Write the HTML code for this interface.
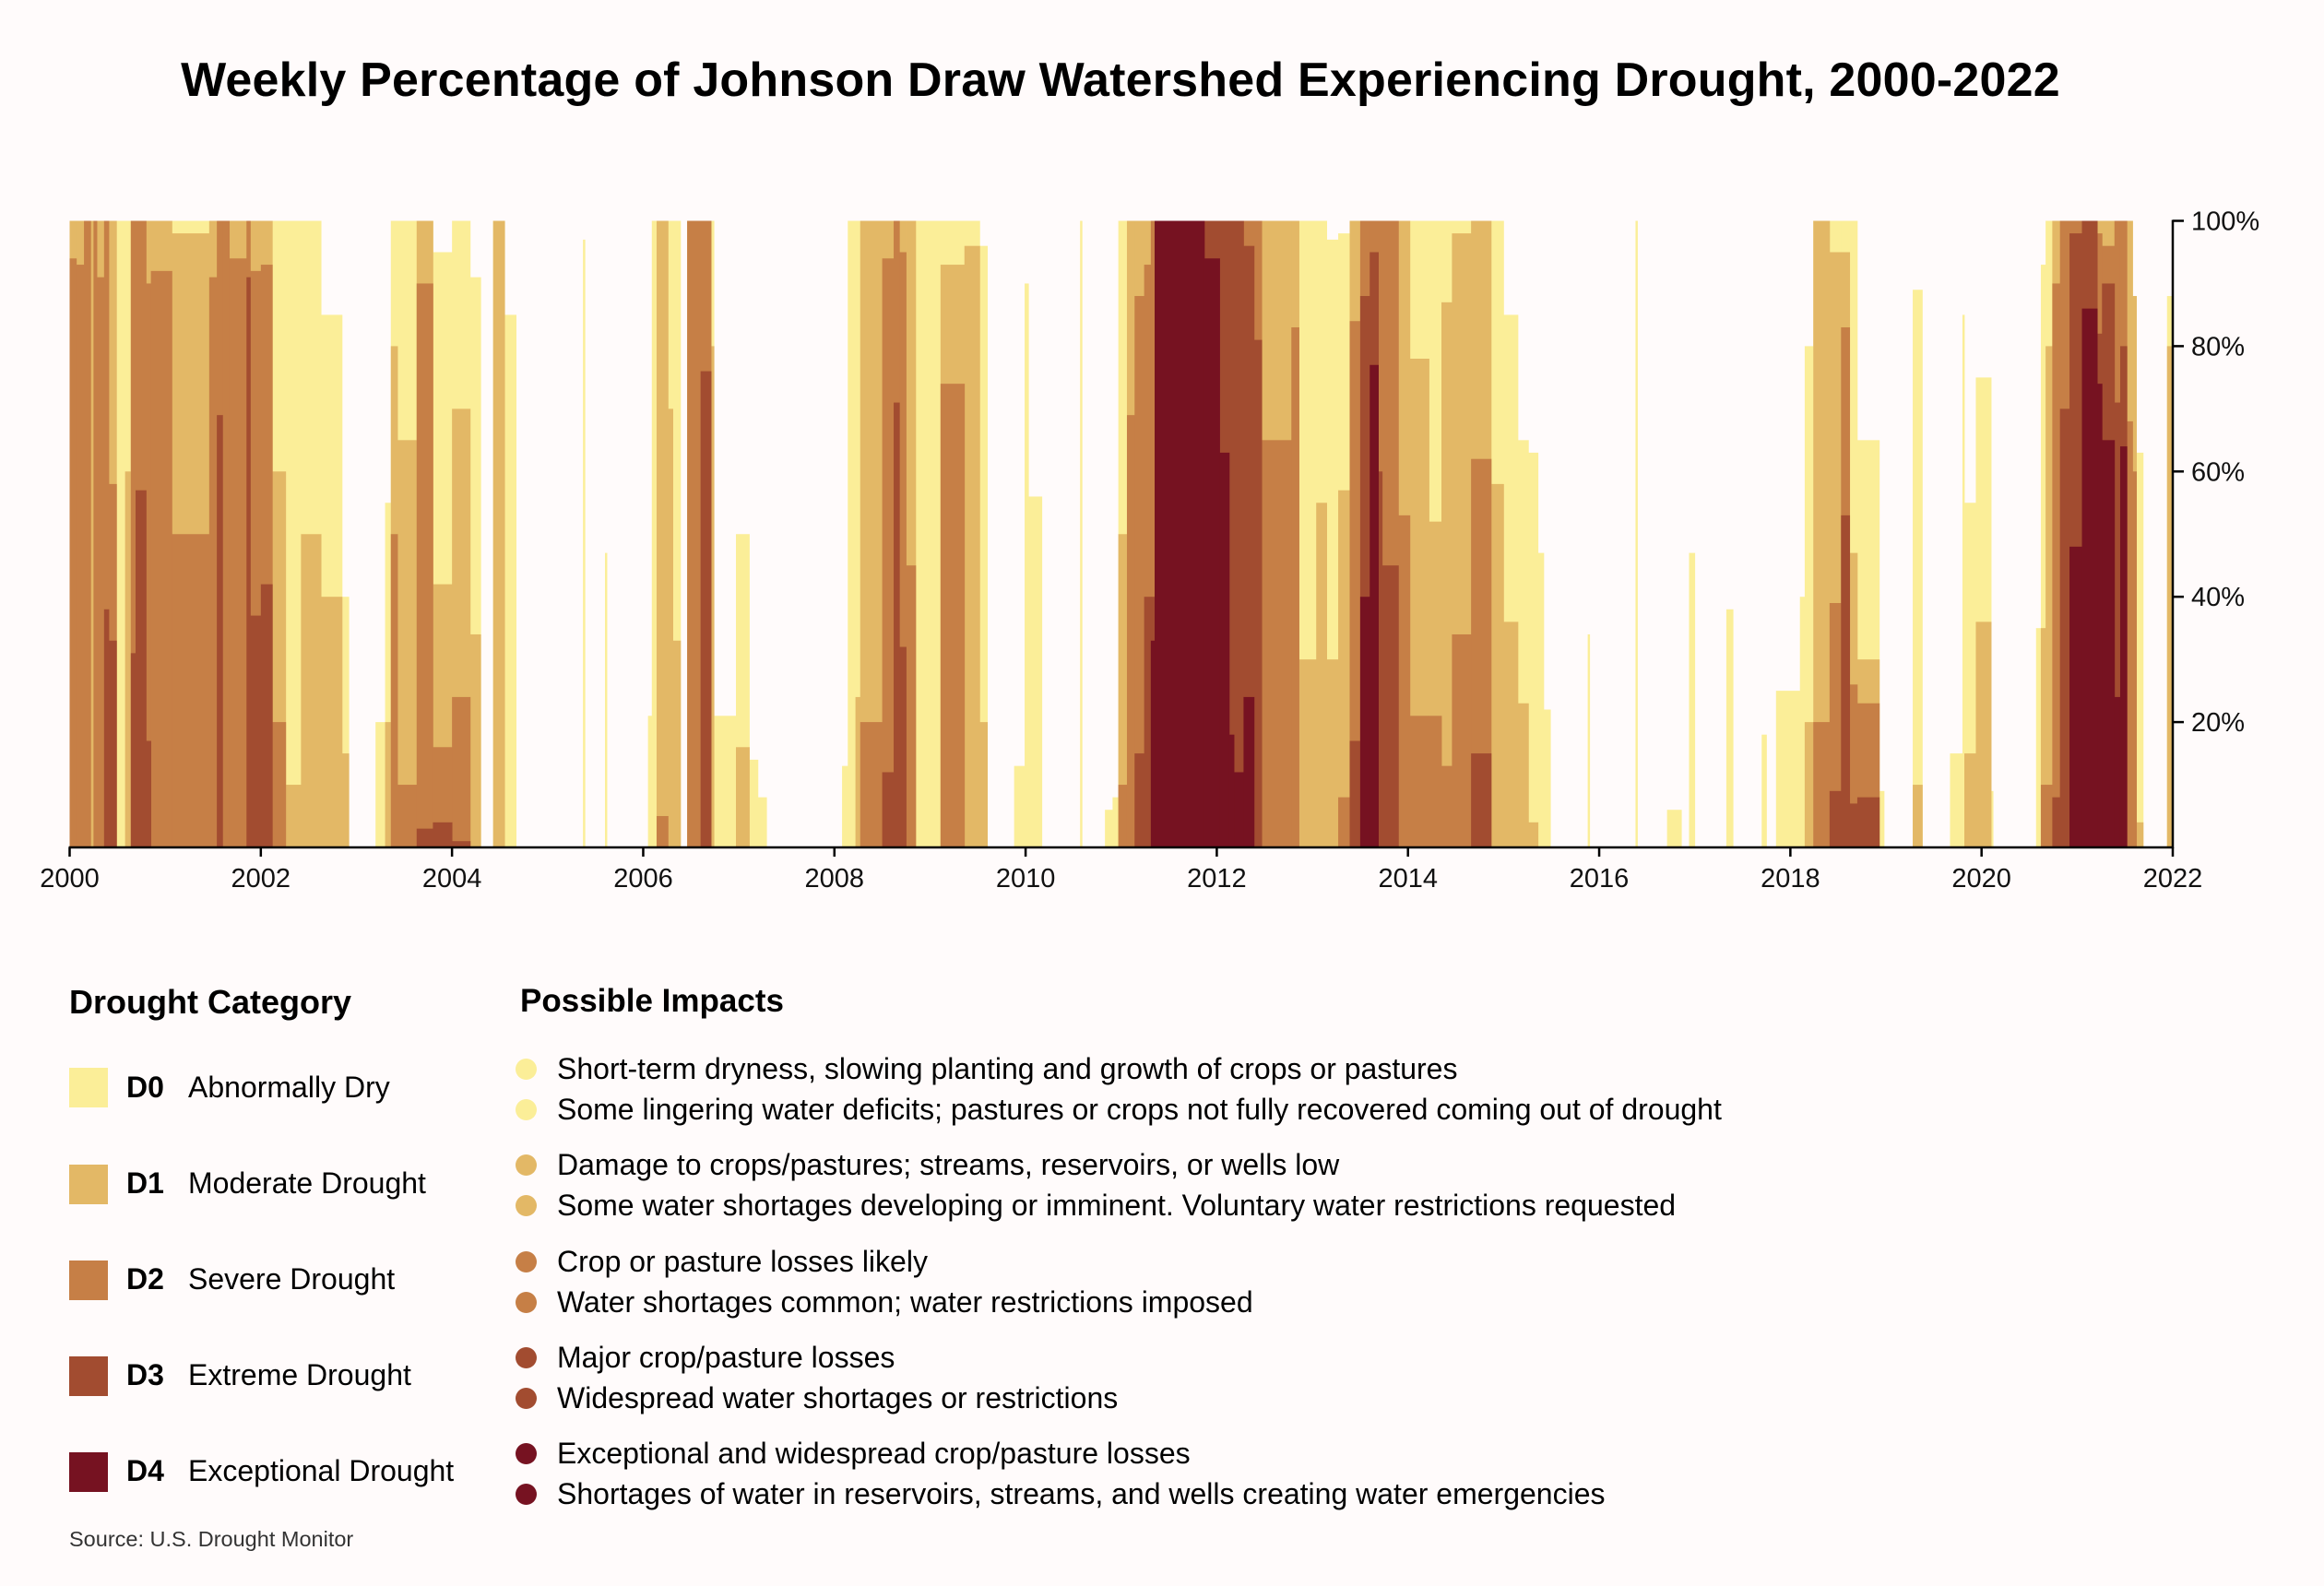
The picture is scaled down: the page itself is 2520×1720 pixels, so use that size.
<!DOCTYPE html>
<html>
<head>
<meta charset="utf-8">
<style>
  html,body{margin:0;padding:0;background:#fffbfb;}
  body{width:2520px;height:1720px;position:relative;overflow:hidden;font-family:"Liberation Sans",sans-serif;color:#000;}
  .title{position:absolute;left:0;width:2430px;top:57px;text-align:center;font-size:52px;font-weight:bold;letter-spacing:0.2px;}
  .hdr{position:absolute;font-size:36px;font-weight:bold;}
  .sq{position:absolute;left:75px;width:42px;height:43px;}
  .code{position:absolute;left:137px;font-size:32px;font-weight:bold;}
  .lab{position:absolute;left:204px;font-size:32px;}
  .dot{position:absolute;left:559px;width:23px;height:23px;border-radius:50%;}
  .imp{position:absolute;left:604px;font-size:32px;white-space:nowrap;}
  .src{position:absolute;left:75px;top:1656px;font-size:23.5px;color:#333;}
  svg text{font-family:"Liberation Sans",sans-serif;}
</style>
</head>
<body>
<div class="title">Weekly Percentage of Johnson Draw Watershed Experiencing Drought, 2000-2022</div>

<svg id="chart" width="2520" height="1000" style="position:absolute;left:0;top:0;"></svg>

<div class="hdr" style="left:75px;top:1066px;">Drought Category</div>
<div class="hdr" style="left:564px;top:1066px;font-size:35px;">Possible Impacts</div>

<div>
  <div class="sq" style="top:1158px;background:#fbee98;"></div>
  <div class="code" style="top:1161px;">D0</div><div class="lab" style="top:1161px;">Abnormally Dry</div>
</div>
<div>
  <div class="sq" style="top:1263px;background:#e3b866;"></div>
  <div class="code" style="top:1265px;">D1</div><div class="lab" style="top:1265px;">Moderate Drought</div>
</div>
<div>
  <div class="sq" style="top:1367px;background:#c67f46;"></div>
  <div class="code" style="top:1369px;">D2</div><div class="lab" style="top:1369px;">Severe Drought</div>
</div>
<div>
  <div class="sq" style="top:1471px;background:#a24c30;"></div>
  <div class="code" style="top:1473px;">D3</div><div class="lab" style="top:1473px;">Extreme Drought</div>
</div>
<div>
  <div class="sq" style="top:1575px;background:#761221;"></div>
  <div class="code" style="top:1577px;">D4</div><div class="lab" style="top:1577px;">Exceptional Drought</div>
</div>

<div>
  <div class="dot" style="top:1148px;background:#fbee98;"></div><div class="imp" style="top:1141px;">Short-term dryness, slowing planting and growth of crops or pastures</div>
  <div class="dot" style="top:1192px;background:#fbee98;"></div><div class="imp" style="top:1185px;">Some lingering water deficits; pastures or crops not fully recovered coming out of drought</div>
</div>
<div>
  <div class="dot" style="top:1252px;background:#e3b866;"></div><div class="imp" style="top:1245px;">Damage to crops/pastures; streams, reservoirs, or wells low</div>
  <div class="dot" style="top:1296px;background:#e3b866;"></div><div class="imp" style="top:1289px;">Some water shortages developing or imminent. Voluntary water restrictions requested</div>
</div>
<div>
  <div class="dot" style="top:1357px;background:#c67f46;"></div><div class="imp" style="top:1350px;">Crop or pasture losses likely</div>
  <div class="dot" style="top:1401px;background:#c67f46;"></div><div class="imp" style="top:1394px;">Water shortages common; water restrictions imposed</div>
</div>
<div>
  <div class="dot" style="top:1461px;background:#a24c30;"></div><div class="imp" style="top:1454px;">Major crop/pasture losses</div>
  <div class="dot" style="top:1505px;background:#a24c30;"></div><div class="imp" style="top:1498px;">Widespread water shortages or restrictions</div>
</div>
<div>
  <div class="dot" style="top:1565px;background:#761221;"></div><div class="imp" style="top:1558px;">Exceptional and widespread crop/pasture losses</div>
  <div class="dot" style="top:1609px;background:#761221;"></div><div class="imp" style="top:1602px;">Shortages of water in reservoirs, streams, and wells creating water emergencies</div>
</div>

<div class="src">Source: U.S. Drought Monitor</div>

<script>
// Segment start (decimal year); each segment ends at the next start (last ends 2022)
const segStart = [
 2000.00,2000.07,2000.15,2000.22,2000.25,2000.285,2000.36,2000.41,2000.49,2000.58,
 2000.64,2000.69,2000.80,2000.85,2001.07,2001.46,2001.54,2001.60,2001.67,2001.85,
 2001.89,2002.00,2002.12,2002.26,2002.42,2002.63,2002.85,2002.92,2003.20,2003.30,
 2003.36,2003.43,2003.63,2003.80,2004.00,2004.19,2004.30,2004.43,2004.55,2004.67,
 2005.37,2005.39,2005.60,2005.62,2006.05,2006.09,2006.14,2006.26,2006.31,2006.39,
 2006.46,2006.60,2006.71,2006.74,2006.97,2007.11,2007.20,2007.29,2008.08,2008.14,
 2008.22,2008.27,2008.50,2008.62,2008.68,2008.75,2008.85,2009.11,2009.36,2009.52,
 2009.60,2009.88,2009.99,2010.03,2010.17,2010.57,2010.59,2010.83,2010.91,2010.97,
 2011.06,2011.14,2011.24,2011.31,2011.35,2011.87,2012.03,2012.13,2012.18,2012.28,
 2012.39,2012.47,2012.78,2012.86,2013.04,2013.15,2013.27,2013.39,2013.50,2013.60,
 2013.69,2013.73,2013.90,2014.02,2014.22,2014.35,2014.46,2014.66,2014.87,2015.00,
 2015.15,2015.26,2015.36,2015.42,2015.49,2015.88,2015.90,2016.38,2016.40,2016.71,
 2016.86,2016.94,2017.00,2017.33,2017.40,2017.70,2017.75,2017.85,2018.10,2018.15,
 2018.24,2018.41,2018.53,2018.62,2018.70,2018.93,2018.98,2019.28,2019.38,2019.67,
 2019.80,2019.82,2019.94,2020.10,2020.12,2020.57,2020.62,2020.67,2020.74,2020.82,
 2020.92,2021.05,2021.21,2021.26,2021.39,2021.45,2021.52,2021.58,2021.62,2021.69,2021.94
];
// Percent of area in D0 or worse
const pctD0 = [
 100,100,100,100,100,100,100,100,100,100,
 100,100,100,100,100,100,100,100,100,100,
 100,100,100,100,100,85,40,0,20,55,
 100,100,100,95,100,91,0,100,85,0,
 97,0,47,0,21,100,100,100,100,0,
 100,100,100,21,50,14,8,0,13,100,
 100,100,100,100,100,100,100,100,100,96,
 0,13,90,56,0,100,0,6,8,100,
 100,100,100,100,100,100,100,100,100,100,
 100,100,100,100,100,97,98,100,100,100,
 100,100,100,100,100,100,100,100,100,85,
 65,63,47,22,0,34,0,100,0,6,
 0,47,0,38,0,18,0,25,40,80,
 100,100,100,100,65,9,0,89,0,15,
 85,55,75,9,0,35,93,100,100,100,
 100,100,100,100,100,100,100,88,63,0,88
];
// Percent in D1 or worse
const pctD1 = [
 100,100,100,100,100,100,100,100,0,60,
 100,100,100,100,98,100,100,100,100,100,
 100,100,60,10,50,40,15,0,0,20,
 80,65,100,42,70,34,0,100,0,0,
 0,0,0,0,0,0,100,70,33,0,
 100,100,80,0,16,0,0,0,0,0,
 24,100,100,100,100,100,0,93,96,20,
 0,0,0,0,0,0,0,0,0,50,
 100,100,100,100,100,100,100,100,100,100,
 100,100,100,30,55,30,57,100,100,100,
 100,100,100,78,52,87,98,100,58,36,
 23,4,0,0,0,0,0,0,0,0,
 0,0,0,0,0,0,0,0,0,20,
 100,95,95,47,30,0,0,10,0,0,
 0,15,36,0,0,0,35,80,100,100,
 100,100,100,100,100,100,100,88,4,0,80
];
// Percent in D2 or worse
const pctD2 = [
 94,93,100,0,100,91,100,58,0,0,
 100,100,90,92,50,91,100,100,94,100,
 92,93,20,0,0,0,0,0,0,0,
 50,10,90,16,24,0,0,0,0,0,
 0,0,0,0,0,0,5,0,0,0,
 100,100,0,0,0,0,0,0,0,0,
 0,20,94,100,95,45,0,74,0,0,
 0,0,0,0,0,0,0,0,0,10,
 69,88,93,100,100,100,100,100,100,100,
 100,65,83,0,0,0,8,84,100,100,
 100,100,53,21,21,13,34,62,0,0,
 0,0,0,0,0,0,0,0,0,0,
 0,0,0,0,0,0,0,0,0,0,
 20,39,83,26,23,0,0,0,0,0,
 0,0,0,0,0,0,10,10,90,100,
 100,100,98,96,100,100,68,60,0,0,0
];
// Percent in D3 or worse
const pctD3 = [
 0,0,0,0,0,0,38,33,0,0,
 31,57,17,0,0,0,69,0,0,91,
 37,42,0,0,0,0,0,0,0,0,
 0,0,3,4,1,0,0,0,0,0,
 0,0,0,0,0,0,0,0,0,0,
 0,76,0,0,0,0,0,0,0,0,
 0,0,12,71,32,0,0,0,0,0,
 0,0,0,0,0,0,0,0,0,0,
 0,15,40,40,100,100,100,100,100,96,
 81,0,0,0,0,0,0,17,88,95,
 60,45,0,0,0,0,0,15,0,0,
 0,0,0,0,0,0,0,0,0,0,
 0,0,0,0,0,0,0,0,0,0,
 0,9,53,7,8,0,0,0,0,0,
 0,0,0,0,0,0,0,0,8,70,
 98,100,82,90,71,80,0,0,0,0,0
];
// Percent in D4
const pctD4 = [
 0,0,0,0,0,0,0,0,0,0,
 0,0,0,0,0,0,0,0,0,0,
 0,0,0,0,0,0,0,0,0,0,
 0,0,0,0,0,0,0,0,0,0,
 0,0,0,0,0,0,0,0,0,0,
 0,0,0,0,0,0,0,0,0,0,
 0,0,0,0,0,0,0,0,0,0,
 0,0,0,0,0,0,0,0,0,0,
 0,0,0,33,100,94,63,18,12,24,
 0,0,0,0,0,0,0,0,40,77,
 0,0,0,0,0,0,0,0,0,0,
 0,0,0,0,0,0,0,0,0,0,
 0,0,0,0,0,0,0,0,0,0,
 0,0,0,0,0,0,0,0,0,0,
 0,0,0,0,0,0,0,0,0,0,
 48,86,74,65,24,64,0,0,0,0,0
];
const endYear = 2022;
const xTicks = [2000,2002,2004,2006,2008,2010,2012,2014,2016,2018,2020,2022];
const yTicks = [20,40,60,80,100];

const NS = "http://www.w3.org/2000/svg";
const svg = document.getElementById('chart');
const X0 = 75.5, X1 = 2356, Y0 = 919, Y1 = 239.5;
function xScale(yr){ return X0 + (yr - 2000) / (2022 - 2000) * (X1 - X0); }
function yScale(p){ return Y0 - p / 100 * (Y0 - Y1); }
function mk(tag, attrs){ const e = document.createElementNS(NS, tag); for (const k in attrs) e.setAttribute(k, attrs[k]); svg.appendChild(e); return e; }

const colors = ['#fbee98','#e3b866','#c67f46','#a24c30','#761221'];
const series = [pctD0, pctD1, pctD2, pctD3, pctD4];
const catNames = ['d0','d1','d2','d3','d4'];

for (let c = 0; c < 5; c++) {
  const vals = series[c];
  for (let i = 0; i < segStart.length; i++) {
    const v = vals[i];
    if (!v) continue;
    const s = segStart[i];
    const e = i + 1 < segStart.length ? segStart[i + 1] : endYear;
    const xa = xScale(s), xb = xScale(e);
    const r = mk('rect', {x: xa.toFixed(2), y: yScale(v).toFixed(2), width: Math.max(1.5, xb - xa + 0.4).toFixed(2), height: (Y0 - yScale(v)).toFixed(2), fill: colors[c]});
    
    
  }
}

// x axis
const xa = mk('line', {x1: X0 - 1, y1: Y0, x2: X1 + 1, y2: Y0, stroke: '#000', 'stroke-width': 2.5});


xTicks.forEach(t => {
  const x = xScale(t);
  const tk = mk('line', {x1: x, y1: Y0, x2: x, y2: Y0 + 10, stroke: '#000', 'stroke-width': 2.5});
  
  
  const lb = mk('text', {x: x, y: Y0 + 43, 'text-anchor': 'middle', 'font-size': 29, fill: '#111'});
  lb.textContent = t;
  
  
});
// y axis
const ya = mk('line', {x1: X1, y1: Y1 - 1, x2: X1, y2: Y0 + 1, stroke: '#000', 'stroke-width': 2.5});


yTicks.forEach(t => {
  const y = yScale(t);
  const tk = mk('line', {x1: X1, y1: y, x2: X1 + 12, y2: y, stroke: '#000', 'stroke-width': 2.5});
  
  
  const lb = mk('text', {x: X1 + 20, y: y + 10, 'text-anchor': 'start', 'font-size': 29, fill: '#111'});
  lb.textContent = t + '%';
  
  
});
</script>
</body>
</html>
